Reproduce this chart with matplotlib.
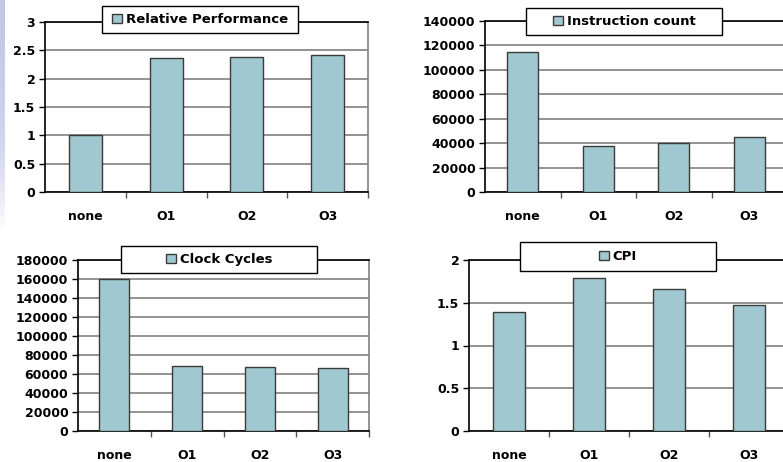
import numpy as np
import matplotlib
matplotlib.use('Agg')
import matplotlib.pyplot as plt
from matplotlib.patches import Rectangle, Patch
from matplotlib.colors import LinearSegmentedColormap

categories = ['none', 'O1', 'O2', 'O3']
rel_perf = [1.0, 2.37, 2.39, 2.41]
instr_count = [114400, 37900, 40100, 45300]
clock_cycles = [159700, 68100, 67000, 66300]
cpi = [1.39, 1.79, 1.66, 1.47]

BAR = '#a0c8d0'
EDGE = '#3a3a3a'
W, H = 783, 462

plt.rcParams['font.family'] = ['DejaVu Sans']
plt.rcParams['font.weight'] = 'bold'
plt.rcParams['font.size'] = 9

fig = plt.figure(figsize=(W / 100, H / 100), dpi=100)

# faint slide stripe on the left edge, fading out downwards
sax = fig.add_axes([0, 1 - 235 / H, 5 / W, 235 / H], zorder=0)
sax.axis('off')
fade = LinearSegmentedColormap.from_list('fade', ['#c3c7e4', '#d3d6ee', '#ffffff'])
sax.imshow(np.linspace(0, 1, 100).reshape(-1, 1) ** 1.5, aspect='auto', cmap=fade)


def px_box(x0, x1, y0, y1):
    return [x0 / W, 1 - y1 / H, (x1 - x0) / W, (y1 - y0) / H]


def panel(rect, values, label, ymax, ystep, leg):
    ax = fig.add_axes(rect)
    x = range(len(categories))
    ax.bar(x, values, width=0.41, color=BAR, edgecolor=EDGE, linewidth=1, zorder=3)
    ax.set_xlim(-0.5, len(categories) - 0.5)
    ax.set_ylim(0, ymax)
    ticks = [i * ystep for i in range(int(round(ymax / ystep)) + 1)]
    ax.set_yticks(ticks)
    ax.set_yticklabels([('%g' % t) for t in ticks])
    ax.yaxis.grid(True, color='#808080', linewidth=1.2)
    ax.set_axisbelow(True)
    ax.tick_params(axis='y', length=4, width=1, pad=3, colors='black')
    # category boundaries as tick marks, names as minor labels
    ax.set_xticks([i + 0.5 for i in range(len(categories))])
    ax.set_xticklabels([])
    ax.set_xticks(list(x), minor=True)
    ax.set_xticklabels(categories, minor=True)
    ax.tick_params(axis='x', which='major', length=4, width=1, color='#555555')
    ax.tick_params(axis='x', which='minor', length=0, pad=13)
    for s in ['left', 'bottom', 'top']:
        ax.spines[s].set_color('black')
        ax.spines[s].set_linewidth(1.2)
    ax.spines['right'].set_color('#808080')
    ax.spines['right'].set_linewidth(1.2)

    # legend box
    x0, x1, y0, y1 = leg
    fig.add_artist(Rectangle((x0 / W, 1 - y1 / H), (x1 - x0) / W, (y1 - y0) / H,
                             transform=fig.transFigure, facecolor='white',
                             edgecolor='black', linewidth=1, zorder=5))
    lg = fig.legend(handles=[Patch(facecolor=BAR, edgecolor=EDGE, label=label)],
                    loc='center', bbox_to_anchor=((x0 + x1) / 2 / W, 1 - (y0 + y1) / 2 / H),
                    frameon=False, handlelength=0.75, handleheight=0.75,
                    handletextpad=0.3, borderpad=0, prop={'weight': 'bold', 'size': 9.5})
    lg.set_zorder(6)
    return ax


panel(px_box(45, 368, 22, 192), rel_perf, 'Relative Performance', 3, 0.5, (102, 298, 6, 33))
panel(px_box(485, 787, 21, 192), instr_count, 'Instruction count', 140000, 20000, (526, 722, 8, 35))
panel(px_box(78, 369, 260, 431), clock_cycles, 'Clock Cycles', 180000, 20000, (121, 317, 246, 273))
panel(px_box(469, 789, 260, 431), cpi, 'CPI', 2, 0.5, (520, 716, 242, 271))

fig.savefig('out.png', dpi=100)
